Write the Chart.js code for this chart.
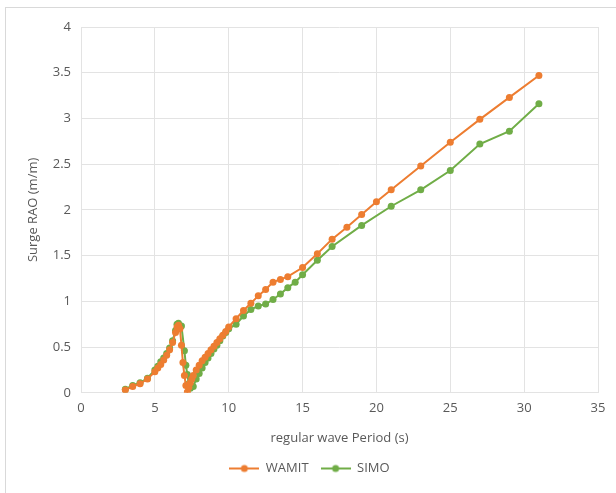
<!DOCTYPE html>
<html>
<head>
<meta charset="utf-8">
<script src="https://cdn.jsdelivr.net/npm/chart.js@4"></script>
<style>
  html, body { margin: 0; padding: 0; background: #fff; }
  #wrap { position: relative; width: 616px; height: 493px; }
  #frame { position: absolute; left: 5px; top: 7px; width: 640px; height: 520px; border: 1px solid #d9d9d9; box-sizing: border-box; }
  canvas { position: absolute; left: 0; top: 0; }
</style>
</head>
<body>
<div id="wrap">
  <div id="frame"></div>
  <canvas id="chart" width="616" height="493"></canvas>
</div>
<script>
// wave periods (s) and surge RAO (m/m)
var wamitPeriod = [3, 3.5, 4, 4.5, 5, 5.2, 5.4, 5.6, 5.8, 6, 6.2, 6.4, 6.5, 6.6, 6.7, 6.8, 6.9, 7, 7.1, 7.2,
    7.3, 7.4, 7.5, 7.6, 7.8, 8, 8.2, 8.4, 8.6, 8.8, 9, 9.2, 9.4, 9.6, 9.8, 10, 10.5, 11, 11.5, 12,
    12.5, 13, 13.5, 14, 15, 16, 17, 18, 19, 20, 21, 23, 25, 27, 29, 31];
var wamitRAO = [0.03, 0.07, 0.10, 0.15, 0.23, 0.27, 0.31, 0.36, 0.41, 0.47, 0.55, 0.66, 0.72, 0.74, 0.70, 0.52, 0.33, 0.19, 0.08, 0.01,
    0.06, 0.11, 0.15, 0.19, 0.25, 0.30, 0.35, 0.39, 0.43, 0.47, 0.51, 0.55, 0.59, 0.63, 0.67, 0.72, 0.81, 0.90, 0.98, 1.06,
    1.13, 1.21, 1.24, 1.27, 1.37, 1.52, 1.68, 1.81, 1.95, 2.09, 2.22, 2.48, 2.74, 2.99, 3.23, 3.47];

var simoPeriod = [3, 3.5, 4, 4.5, 5, 5.2, 5.4, 5.6, 5.8, 6, 6.2, 6.4, 6.5, 6.6, 6.8, 7, 7.1, 7.2, 7.3, 7.4,
    7.6, 7.8, 8, 8.2, 8.4, 8.6, 8.8, 9, 9.2, 9.4, 9.6, 9.8, 10, 10.5, 11, 11.5, 12, 12.5, 13, 13.5,
    14, 14.5, 15, 16, 17, 19, 21, 23, 25, 27, 29, 31];
var simoRAO = [0.04, 0.08, 0.11, 0.16, 0.25, 0.29, 0.34, 0.38, 0.43, 0.49, 0.57, 0.68, 0.75, 0.76, 0.73, 0.46, 0.30, 0.20, 0.10, 0.05,
    0.07, 0.15, 0.21, 0.27, 0.33, 0.38, 0.43, 0.48, 0.52, 0.57, 0.62, 0.66, 0.70, 0.75, 0.84, 0.91, 0.95, 0.97, 1.02, 1.08,
    1.15, 1.21, 1.29, 1.45, 1.60, 1.83, 2.04, 2.22, 2.43, 2.72, 2.86, 3.16];

var seriesNames = ["WAMIT", "SIMO"];
var seriesColors = ["#ED7D31", "#70AD47"];
var xTitle = "regular wave Period (s)";
var yTitle = "Surge RAO (m/m)";

function pairs(xs, ys) {
    return xs.map(function (x, i) { return { x: x, y: ys[i] }; });
}

// little line-with-dot marker for the legend, like Excel
function legendMarker(color) {
    var c = document.createElement("canvas");
    c.width = 30; c.height = 10;
    var g = c.getContext("2d");
    g.strokeStyle = color; g.lineWidth = 2;
    g.beginPath(); g.moveTo(0, 5); g.lineTo(30, 5); g.stroke();
    g.fillStyle = color;
    g.beginPath(); g.arc(15, 5, 3.5, 0, Math.PI * 2); g.fill();
    return c;
}

var txt = "#595959";
var fontFam = "'Open Sans', 'Liberation Sans', sans-serif";

var ctx = document.getElementById("chart").getContext("2d");
var chart = new Chart(ctx, {
    type: "scatter",
    data: {
        datasets: [
            { label: seriesNames[0], data: pairs(wamitPeriod, wamitRAO), showLine: true,
              borderColor: seriesColors[0], backgroundColor: seriesColors[0], borderWidth: 2,
              pointRadius: 3.5, pointBorderWidth: 0, tension: 0 },
            { label: seriesNames[1], data: pairs(simoPeriod, simoRAO), showLine: true,
              borderColor: seriesColors[1], backgroundColor: seriesColors[1], borderWidth: 2,
              pointRadius: 3.5, pointBorderWidth: 0, tension: 0 }
        ]
    },
    options: {
        responsive: false,
        animation: false,
        layout: { padding: { left: 21, right: 18, top: 27, bottom: 8 } },
        scales: {
            x: {
                type: "linear", min: 0, max: 35,
                ticks: { stepSize: 5, color: txt, font: { family: fontFam, size: 13 }, padding: 8 },
                grid: { color: "#e3e3e3", drawTicks: false },
                border: { color: "#e3e3e3" },
                title: { display: true, text: xTitle, color: txt, font: { family: fontFam, size: 13 }, padding: { top: 6 } }
            },
            y: {
                min: 0, max: 4,
                ticks: { stepSize: 0.5, color: txt, font: { family: fontFam, size: 13 }, padding: 10,
                         callback: function (v) { return String(v); } },
                grid: { color: "#e3e3e3", drawTicks: false },
                border: { display: false },
                title: { display: true, text: yTitle, color: txt, font: { family: fontFam, size: 13 } },
                afterFit: function (scale) { scale.width = 60; }
            }
        },
        plugins: {
            tooltip: { enabled: false },
            legend: {
                position: "bottom",
                labels: {
                    usePointStyle: true,
                    pointStyleWidth: 30,
                    color: txt,
                    font: { family: fontFam, size: 13 },
                    padding: 12,
                    generateLabels: function (ch) {
                        return ch.data.datasets.map(function (d, i) {
                            return { text: d.label, pointStyle: legendMarker(seriesColors[i]),
                                     fontColor: txt, datasetIndex: i, hidden: false, lineWidth: 0 };
                        });
                    }
                }
            }
        }
    }
});
</script>
</body>
</html>
